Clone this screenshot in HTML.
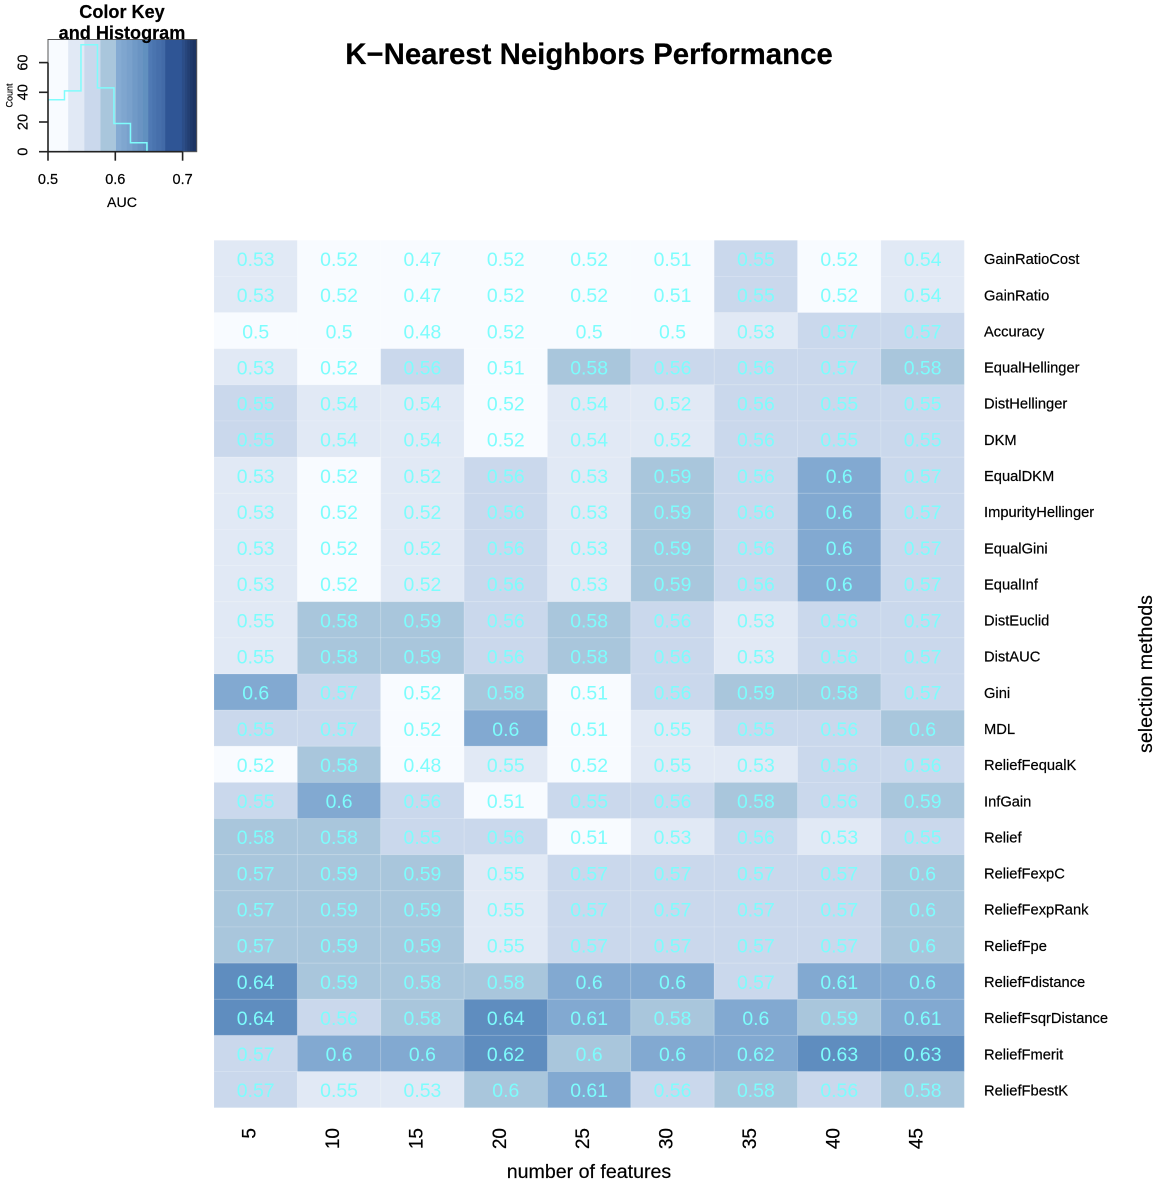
<!DOCTYPE html>
<html lang="en">
<head>
<meta charset="utf-8">
<title>K-Nearest Neighbors Performance</title>
<style>
html,body{margin:0;padding:0;background:#fff;}
#chart{display:block;width:1158px;height:1184px;filter:blur(0.35px);}
text{font-family:"Liberation Sans",Arial,sans-serif;fill:#000;stroke:#000;stroke-width:0.2px;}
</style>
</head>
<body>
<svg id="chart" xmlns="http://www.w3.org/2000/svg" width="1158" height="1184" viewBox="0 0 1158 1184">
  <rect x="0" y="0" width="1158" height="1184" fill="#ffffff"/>
  <g id="heatmap"></g>
  <g id="rowLabels"></g>
  <g id="colLabels"></g>
  <g id="colorKey"></g>
  <text x="589" y="64" text-anchor="middle" font-size="29.4" font-weight="bold">K−Nearest Neighbors Performance</text>
  <text x="589" y="1178" text-anchor="middle" font-size="19.6">number of features</text>
  <text transform="translate(1152,674) rotate(-90)" text-anchor="middle" font-size="19.6">selection methods</text>
  <text x="122" y="18" text-anchor="middle" font-size="18.1" font-weight="bold">Color Key</text>
  <text x="122" y="39" text-anchor="middle" font-size="18.1" font-weight="bold">and Histogram</text>
  <text x="122" y="207" text-anchor="middle" font-size="14.2">AUC</text>
  <text transform="translate(12.5,95.5) rotate(-90)" text-anchor="middle" font-size="9">Count</text>
</svg>
<script>
const features = [5, 10, 15, 20, 25, 30, 35, 40, 45];
const methods = ["GainRatioCost","GainRatio","Accuracy","EqualHellinger","DistHellinger","DKM","EqualDKM","ImpurityHellinger","EqualGini","EqualInf","DistEuclid","DistAUC","Gini","MDL","ReliefFequalK","InfGain","Relief","ReliefFexpC","ReliefFexpRank","ReliefFpe","ReliefFdistance","ReliefFsqrDistance","ReliefFmerit","ReliefFbestK"];
const auc = [
  [.53,.52,.47,.52,.52,.51,.552,.52,.54],
  [.53,.52,.47,.52,.52,.51,.552,.52,.54],
  [.5,.5,.48,.52,.5,.5,.53,.57,.57],
  [.53,.52,.56,.51,.58,.56,.56,.57,.58],
  [.552,.54,.54,.52,.54,.523,.56,.552,.552],
  [.552,.54,.54,.52,.54,.523,.56,.552,.552],
  [.53,.52,.523,.56,.53,.59,.56,.601,.57],
  [.53,.52,.523,.56,.53,.59,.56,.601,.57],
  [.53,.52,.523,.56,.53,.59,.56,.601,.57],
  [.53,.52,.523,.56,.53,.59,.56,.601,.57],
  [.548,.58,.59,.56,.58,.56,.53,.56,.57],
  [.548,.58,.59,.56,.58,.56,.53,.56,.57],
  [.601,.57,.52,.58,.51,.56,.59,.58,.57],
  [.552,.57,.52,.601,.51,.548,.552,.56,.597],
  [.52,.58,.48,.548,.52,.548,.53,.56,.56],
  [.552,.601,.56,.51,.552,.56,.58,.56,.59],
  [.58,.58,.552,.56,.51,.53,.56,.53,.552],
  [.574,.59,.59,.548,.57,.57,.57,.57,.597],
  [.574,.59,.59,.548,.57,.57,.57,.57,.597],
  [.574,.59,.59,.548,.57,.57,.57,.57,.597],
  [.64,.59,.58,.58,.601,.601,.57,.61,.601],
  [.64,.56,.58,.64,.61,.58,.601,.59,.61],
  [.57,.601,.601,.624,.597,.601,.62,.63,.63],
  [.57,.548,.53,.597,.61,.56,.58,.56,.58]
];
const cellBreaks = [0.5215, 0.55, 0.573, 0.5995, 0.622];
const cellColors = ["#f8fbff","#e1e9f5","#cad8ec","#a9c6dc","#82a9d1","#5f8dbf"];
const keyBreaks = [.5,.53,.554,.578,.601,.609,.617,.625,.633,.641,.649,.655,.661,.668,.674,.699,.703,.707,.711,.715,.721];
const keyColors = ["#f8fbff","#e1e9f5","#cad8ec","#a9c6dc","#85abd3","#7fa6cf","#79a1cc","#709ac7","#6a94c3","#6190bf","#4f79b4","#4a74af","#466fab","#426aa7","#2f5595","#2b4d88","#27467d","#233f73","#1f396a","#1c3463"];
const histCounts = [35, 41, 72, 43, 19, 6, 0];
const histStart = 0.5;
const histBinWidth = 0.0245;
const keyXTicks = [0.5, 0.6, 0.7];
const keyYTicks = [0, 20, 40, 60];

const SVGNS = "http://www.w3.org/2000/svg";
function make(tag, attrs, parent) {
  const el = document.createElementNS(SVGNS, tag);
  for (const k in attrs) el.setAttribute(k, attrs[k]);
  parent.appendChild(el);
  return el;
}

const plotLeft = 214, plotRight = 964.3, plotTop = 240.3, plotBottom = 1107.7;
const cellW = (plotRight - plotLeft) / features.length;
const cellH = (plotBottom - plotTop) / methods.length;
function colX(i) { return plotLeft + i * cellW; }
function rowY(j) { return plotTop + j * cellH; }
function cellColor(v) {
  let b = 0;
  while (b < cellBreaks.length && v >= cellBreaks[b]) b++;
  return cellColors[b];
}

const keyLeft = 48, keyRight = 196.7, keyTop = 39.5, keyBottom = 151.7;
function keyX(v) { return keyLeft + (v - 0.5) * 673; }
function keyY(c) { return keyBottom - c * 1.485; }

const heatmap = document.getElementById("heatmap");
auc.forEach(function (row, j) {
  row.forEach(function (v, i) {
    const cell = make("rect", {x: colX(i), y: rowY(j), width: cellW, height: cellH, fill: cellColor(v), stroke: "#ffffff", "stroke-opacity": "0.12", "stroke-width": "1"}, heatmap);
    
    
  });
});
auc.forEach(function (row, j) {
  row.forEach(function (v, i) {
    const t = make("text", {x: colX(i) + cellW / 2, y: rowY(j) + cellH / 2 + 7.6, "text-anchor": "middle", "font-size": "19.4", style: "fill:#7dfdfd;stroke:none"}, heatmap);
    t.textContent = String(Number(v.toFixed(2)));
    
    
  });
});

const rowLabels = document.getElementById("rowLabels");
methods.forEach(function (m, j) {
  const t = make("text", {x: 984, y: rowY(j) + cellH / 2 + 5.8, "font-size": "14.7"}, rowLabels);
  t.textContent = m;
  
  
});

const colLabels = document.getElementById("colLabels");
features.forEach(function (f, i) {
  const cx = colX(i) + cellW / 2;
  const t = make("text", {transform: "translate(" + cx + ",1128) rotate(-90)", "text-anchor": "end", "font-size": "19"}, colLabels);
  t.textContent = String(f);
  
  
});

const colorKey = document.getElementById("colorKey");
keyColors.forEach(function (c, k) {
  const x0 = keyX(keyBreaks[k]);
  const x1 = keyX(keyBreaks[k + 1]);
  const band = make("rect", {x: x0, y: keyTop, width: x1 - x0 + 0.3, height: keyBottom - keyTop, fill: c}, colorKey);
  
  
});
const frame = make("rect", {x: keyLeft, y: keyTop, width: keyRight - keyLeft, height: keyBottom - keyTop, fill: "none", stroke: "#555", "stroke-width": "1"}, colorKey);



let d = "M" + keyX(histStart) + " " + keyY(histCounts[0]);
histCounts.forEach(function (c, k) {
  const xEnd = keyX(histStart + (k + 1) * histBinWidth);
  d += " L" + xEnd + " " + keyY(c);
  if (k + 1 < histCounts.length) d += " L" + xEnd + " " + keyY(histCounts[k + 1]);
});
const hist = make("path", {d: d, fill: "none", stroke: "#7ffcfc", "stroke-width": "1.5"}, colorKey);



const xAxisLine = make("line", {x1: keyX(keyXTicks[0]), x2: keyX(keyXTicks[keyXTicks.length - 1]), y1: keyBottom, y2: keyBottom, stroke: "#222", "stroke-width": "1.6"}, colorKey);


keyXTicks.forEach(function (v) {
  const x = keyX(v);
  const tick = make("line", {x1: x, x2: x, y1: keyBottom, y2: keyBottom + 9, stroke: "#222", "stroke-width": "1.6"}, colorKey);
  
  
  const t = make("text", {x: x, y: 184, "text-anchor": "middle", "font-size": "14.5"}, colorKey);
  t.textContent = v.toFixed(1);
  
  
});

const yAxisLine = make("line", {x1: keyLeft, x2: keyLeft, y1: keyY(keyYTicks[0]), y2: keyY(keyYTicks[keyYTicks.length - 1]), stroke: "#222", "stroke-width": "1.6"}, colorKey);


keyYTicks.forEach(function (c) {
  const y = keyY(c);
  const tick = make("line", {x1: keyLeft - 9, x2: keyLeft, y1: y, y2: y, stroke: "#222", "stroke-width": "1.6"}, colorKey);
  
  
  const t = make("text", {transform: "translate(27.5," + y + ") rotate(-90)", "text-anchor": "middle", "font-size": "14.5"}, colorKey);
  t.textContent = String(c);
  
  
});
</script>
</body>
</html>
